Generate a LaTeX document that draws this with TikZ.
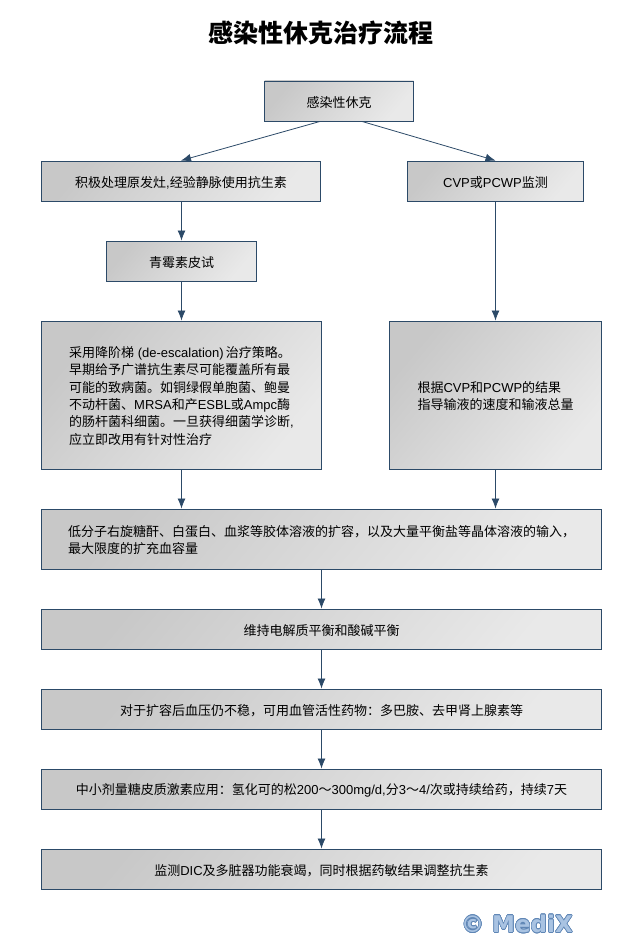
\documentclass[tikz,border=0pt]{standalone}
\usepackage{fontspec}
\usepackage{tikz}
\usepackage[copies]{contour}
\usetikzlibrary{arrows.meta}
\setmainfont{Noto Sans CJK SC}
\newfontfamily\lat{Liberation Sans}
\newfontfamily\wmfont{DejaVu Sans}
\definecolor{edgeblue}{HTML}{2C4A68}
\definecolor{boxdark}{HTML}{C8C8C8}
\definecolor{boxlight}{HTML}{E9E9E9}
\definecolor{wmblue}{HTML}{A9C3E2}
\definecolor{wmline}{HTML}{5F86B5}
\newcommand\toprow{\rule{0pt}{17pt}}
\tikzset{
  flowbox/.style={draw=edgeblue,line width=0.9pt,left color=boxdark,right color=boxlight,
    shading angle=50,inner sep=0pt,font=\fontsize{13}{17.3}\selectfont,
    execute at begin node={\rule{0pt}{14pt}}},
  flowline/.style={draw=edgeblue,line width=0.8pt,-{Latex[length=10pt,width=8pt]}}
}
\begin{document}
\begin{tikzpicture}[x=1pt,y=-1pt]
\useasboundingbox (0,0) rectangle (642,939);
% title:
\node (title) at (321,33) {\fontsize{25}{30}\selectfont\bfseries 感染性休克治疗流程};
% upper boxes:
\node[flowbox,minimum width=149pt,minimum height=40pt] (shock) at (339,101) {感染性休克};
\node[flowbox,minimum width=279pt,minimum height=40pt] (source) at (181,181) {积极处理原发灶{\lat ,}经验静脉使用抗生素};
\node[flowbox,minimum width=176pt,minimum height=40pt] (cvp) at (495.5,181) {{\lat CVP}或{\lat PCWP}监测};
\node[flowbox,minimum width=150pt,minimum height=40pt] (skin) at (181.5,261) {青霉素皮试};
% tall boxes:
\node[flowbox,minimum width=280pt,minimum height=148pt] (drug) at (181.5,395) {\begin{tabular}{@{}l@{}}
\toprow 采用降阶梯{\lat\ (de-escalation)\,}治疗策略。\\
早期给予广谱抗生素尽可能覆盖所有最\\
可能的致病菌。如铜绿假单胞菌、鲍曼\\
不动杆菌、{\lat MRSA}和产{\lat ESBL}或{\lat Ampc}酶\\
的肠杆菌科细菌。一旦获得细菌学诊断{\lat ,}\\
应立即改用有针对性治疗
\end{tabular}};
\node[flowbox,minimum width=212pt,minimum height=148pt] (guide) at (495.5,395) {\begin{tabular}{@{}l@{}}
\toprow 根据{\lat CVP}和{\lat PCWP}的结果\\
指导输液的速度和输液总量
\end{tabular}};
% wide boxes:
\node[flowbox,minimum width=560pt,minimum height=60pt] (volume) at (321.5,539) {\begin{tabular}{@{}l@{}}
\toprow 低分子右旋糖酐、白蛋白、血浆等胶体溶液的扩容，以及大量平衡盐等晶体溶液的输入，\\
最大限度的扩充血容量
\end{tabular}};
\node[flowbox,minimum width=560pt,minimum height=40pt] (balance) at (321.5,629) {维持电解质平衡和酸碱平衡};
\node[flowbox,minimum width=560pt,minimum height=40pt] (pressor) at (321.5,709) {对于扩容后血压仍不稳，可用血管活性药物：多巴胺、去甲肾上腺素等};
\node[flowbox,minimum width=560pt,minimum height=40pt] (steroid) at (321.5,789) {中小剂量糖皮质激素应用：氢化可的松{\lat 200}～{\lat 300mg/d,}分{\lat 3}～{\lat 4/}次或持续给药，持续{\lat 7}天};
\node[flowbox,minimum width=560pt,minimum height=40pt] (monitor) at (321.5,869) {监测{\lat DIC}及多脏器功能衰竭，同时根据药敏结果调整抗生素};
% watermark:
\contourlength{0.6pt}
\node[text=wmblue,anchor=base east,inner sep=0pt] (mark) at (573,932.5) {\fontsize{23}{24}\wmfont\bfseries\contour{wmline}{© MediX}};
% connectors:
\draw[flowline] ([xshift=-19pt]shock.south) -- (source.north);
\draw[flowline] ([xshift=23pt]shock.south) -- (cvp.north);
\draw[flowline] (source.south -| skin.north) -- (skin.north);
\draw[flowline] (skin.south) -- (drug.north);
\draw[flowline] (cvp.south) -- (guide.north);
\draw[flowline] (drug.south) -- (drug.south |- volume.north);
\draw[flowline] (guide.south) -- (guide.south |- volume.north);
\draw[flowline] (volume.south) -- (balance.north);
\draw[flowline] (balance.south) -- (pressor.north);
\draw[flowline] (pressor.south) -- (steroid.north);
\draw[flowline] (steroid.south) -- (monitor.north);
\end{tikzpicture}
\end{document}
